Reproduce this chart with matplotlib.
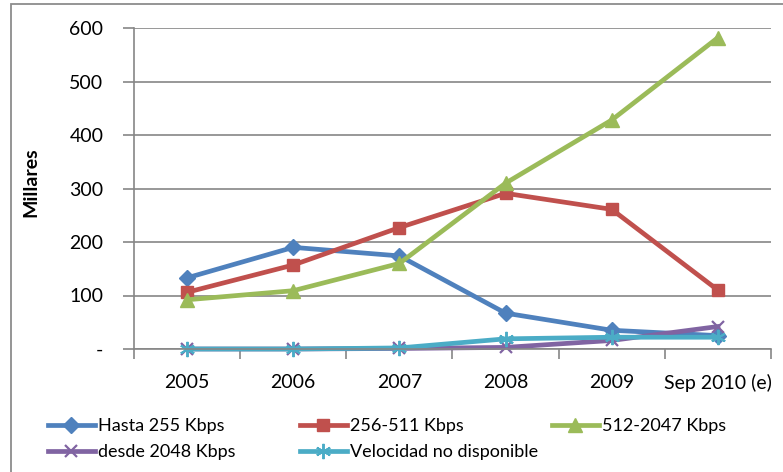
import numpy as np
import matplotlib.pyplot as plt
from matplotlib.patches import Rectangle

plt.rcParams['font.family'] = ['Lato', 'DejaVu Sans']

years = ['2005', '2006', '2007', '2008', '2009', 'Sep 2010 (e)']
hasta_255 = [133, 190, 174, 67, 35, 25]
k256_511 = [106, 157, 227, 291, 261, 110]
k512_2047 = [92, 109, 160, 310, 428, 582]
desde_2048 = [0, 0, 1, 3, 16, 42]
no_disp = [0, 0, 2, 19, 22, 22]

names = ['Hasta 255 Kbps', '256-511 Kbps', '512-2047 Kbps',
         'desde 2048 Kbps', 'Velocidad no disponible']
colors = ['#4F81BD', '#C0504D', '#9BBB59', '#8064A2', '#4BACC6']
grey = '#868686'

fig = plt.figure(figsize=(7.83, 4.72), dpi=100)
# outer frame of the chart area
fig.patches.append(Rectangle((11 / 783, -0.1), 1.2, 1 - 4 / 472 + 0.1,
                             transform=fig.transFigure, fill=False,
                             edgecolor='#8c8c8c', lw=1.3))
ax = fig.add_axes([134 / 783, 1 - 349 / 472, (771 - 134) / 783, (349 - 28) / 472])

x = np.arange(len(years))
series = [hasta_255, k256_511, k512_2047, desde_2048, no_disp]
mk = [dict(marker='D', ms=8),
      dict(marker='s', ms=9),
      dict(marker='^', ms=10),
      dict(marker='x', ms=9, mew=1.6),
      dict(marker=(6, 2, 0), ms=11, mew=1.4)]
lines = []
for vals, name, c, m in zip(series, names, colors, mk):
    ln, = ax.plot(x, vals, color=c, lw=3.4, label=name, clip_on=False,
                  solid_joinstyle='round', **m)
    lines.append(ln)

ax.set_xlim(-0.5, 5.5)
ax.set_ylim(0, 600)
ax.set_yticks(range(0, 601, 100))
ax.set_yticklabels(['-'] + [str(v) for v in range(100, 601, 100)], fontsize=14)
ax.set_xticks(x)
ax.set_xticklabels(years, fontsize=14)
ax.set_xticks(np.arange(-0.5, 6, 1), minor=True)
ax.tick_params(axis='x', which='major', length=0, pad=18)
ax.tick_params(axis='x', which='minor', length=7, color=grey, width=1.2)
ax.tick_params(axis='y', length=8, color=grey, width=1.2, pad=14)
ax.yaxis.grid(True, color=grey, lw=1.2)
ax.set_axisbelow(True)
for s in ['top', 'right']:
    ax.spines[s].set_visible(False)
for s in ['left', 'bottom']:
    ax.spines[s].set_color(grey)
    ax.spines[s].set_linewidth(1.2)
ax.set_ylabel('Millares', fontsize=14, fontweight='bold')
ax.yaxis.set_label_coords(-0.148, 0.52)

# legend laid out in fixed columns, one legend per column
cols = [[0, 3], [1, 4], [2]]
col_x = [48, 300, 552]
for idx, cx in zip(cols, col_x):
    fig.legend([lines[i] for i in idx], [names[i] for i in idx],
               loc='upper left', bbox_to_anchor=(cx / 783, 1 - 418 / 472),
               frameon=False, fontsize=13, handlelength=2.6,
               handletextpad=0.15, labelspacing=0.58, borderpad=0,
               borderaxespad=0)

fig.savefig('out.png', dpi=100)
